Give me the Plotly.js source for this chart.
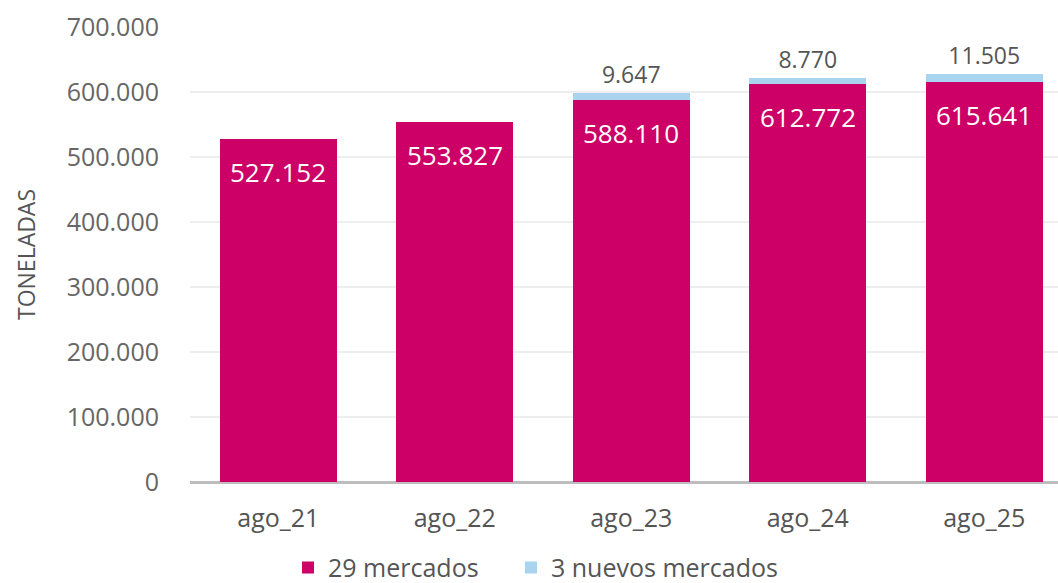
<!DOCTYPE html>
<html>
<head>
<meta charset="utf-8">
<script src="https://cdn.plot.ly/plotly-3.0.1.min.js"></script>
<style>html,body{margin:0;padding:0;background:#fff}#chart{width:1058px;height:583px}</style>
</head>
<body>
<div id="chart"></div>
<script>
const categories = ["ago_21", "ago_22", "ago_23", "ago_24", "ago_25"];
const mercados29 = [527152, 553827, 588110, 612772, 615641];
const nuevos3 = [0, 0, 9647, 8770, 11505];
const yTicks = [0, 100000, 200000, 300000, 400000, 500000, 600000, 700000];

const fmt = v => v.toLocaleString('de-DE');

const FONT = '"Open Sans", "Noto Sans", sans-serif';

const traces = [
  {
    type: 'bar', name: '29 mercados', x: categories, y: mercados29,
    marker: {color: '#CC0066'}, width: 0.663, hoverinfo: 'none',
    legend: 'legend'
  },
  {
    type: 'bar', name: '3 nuevos mercados', x: categories, y: nuevos3,
    marker: {color: '#A9D4F0'}, width: 0.663,
    text: nuevos3.map(v => v ? fmt(v) : ''), textposition: 'outside',
    textfont: {family: FONT, size: 23, color: '#555'},
    cliponaxis: false, constraintext: 'none', hoverinfo: 'none',
    legend: 'legend2'
  }
];

const annotations = categories.map((c, i) => ({
  x: c, y: mercados29[i], xref: 'x', yref: 'y',
  text: fmt(mercados29[i]), showarrow: false,
  yanchor: 'middle', yshift: -33,
  font: {family: FONT, size: 26, color: '#ffffff'}
}));

const legendBase = {
  orientation: 'h', xref: 'container', xanchor: 'left',
  yref: 'container', y: 0.026, yanchor: 'middle',
  font: {family: FONT, size: 25, color: '#555'},
  itemclick: false, bgcolor: 'rgba(0,0,0,0)'
};

const layout = {
  width: 1058, height: 583,
  margin: {l: 190, r: 0, t: 27, b: 101},
  barmode: 'stack',
  separators: ',.',
  paper_bgcolor: '#fff', plot_bgcolor: '#fff',
  font: {family: FONT, color: '#555'},
  showlegend: true,
  legend: Object.assign({}, legendBase, {x: 288 / 1058}),
  legend2: Object.assign({}, legendBase, {x: 511 / 1058}),
  xaxis: {
    type: 'category', range: [-0.5, 4.418],
    showgrid: false, zeroline: false,
    showline: false, ticks: '',
    tickfont: {family: FONT, size: 25, color: '#555'},
    ticklabelstandoff: 19
  },
  yaxis: {
    range: [0, 700000], tickvals: yTicks, ticktext: yTicks.map(fmt),
    showgrid: true, gridcolor: '#eeeeee', gridwidth: 2,
    zeroline: true, zerolinecolor: '#bdbdbd', zerolinewidth: 3,
    showline: false, ticks: '',
    tickfont: {family: FONT, size: 25, color: '#666'},
    ticklabelstandoff: 30,
    title: {text: 'TONELADAS', font: {family: FONT, size: 23, color: '#555'}, standoff: 24}
  },
  annotations: annotations
};

Plotly.newPlot('chart', traces, layout, {displayModeBar: false, staticPlot: true});
</script>
</body>
</html>
